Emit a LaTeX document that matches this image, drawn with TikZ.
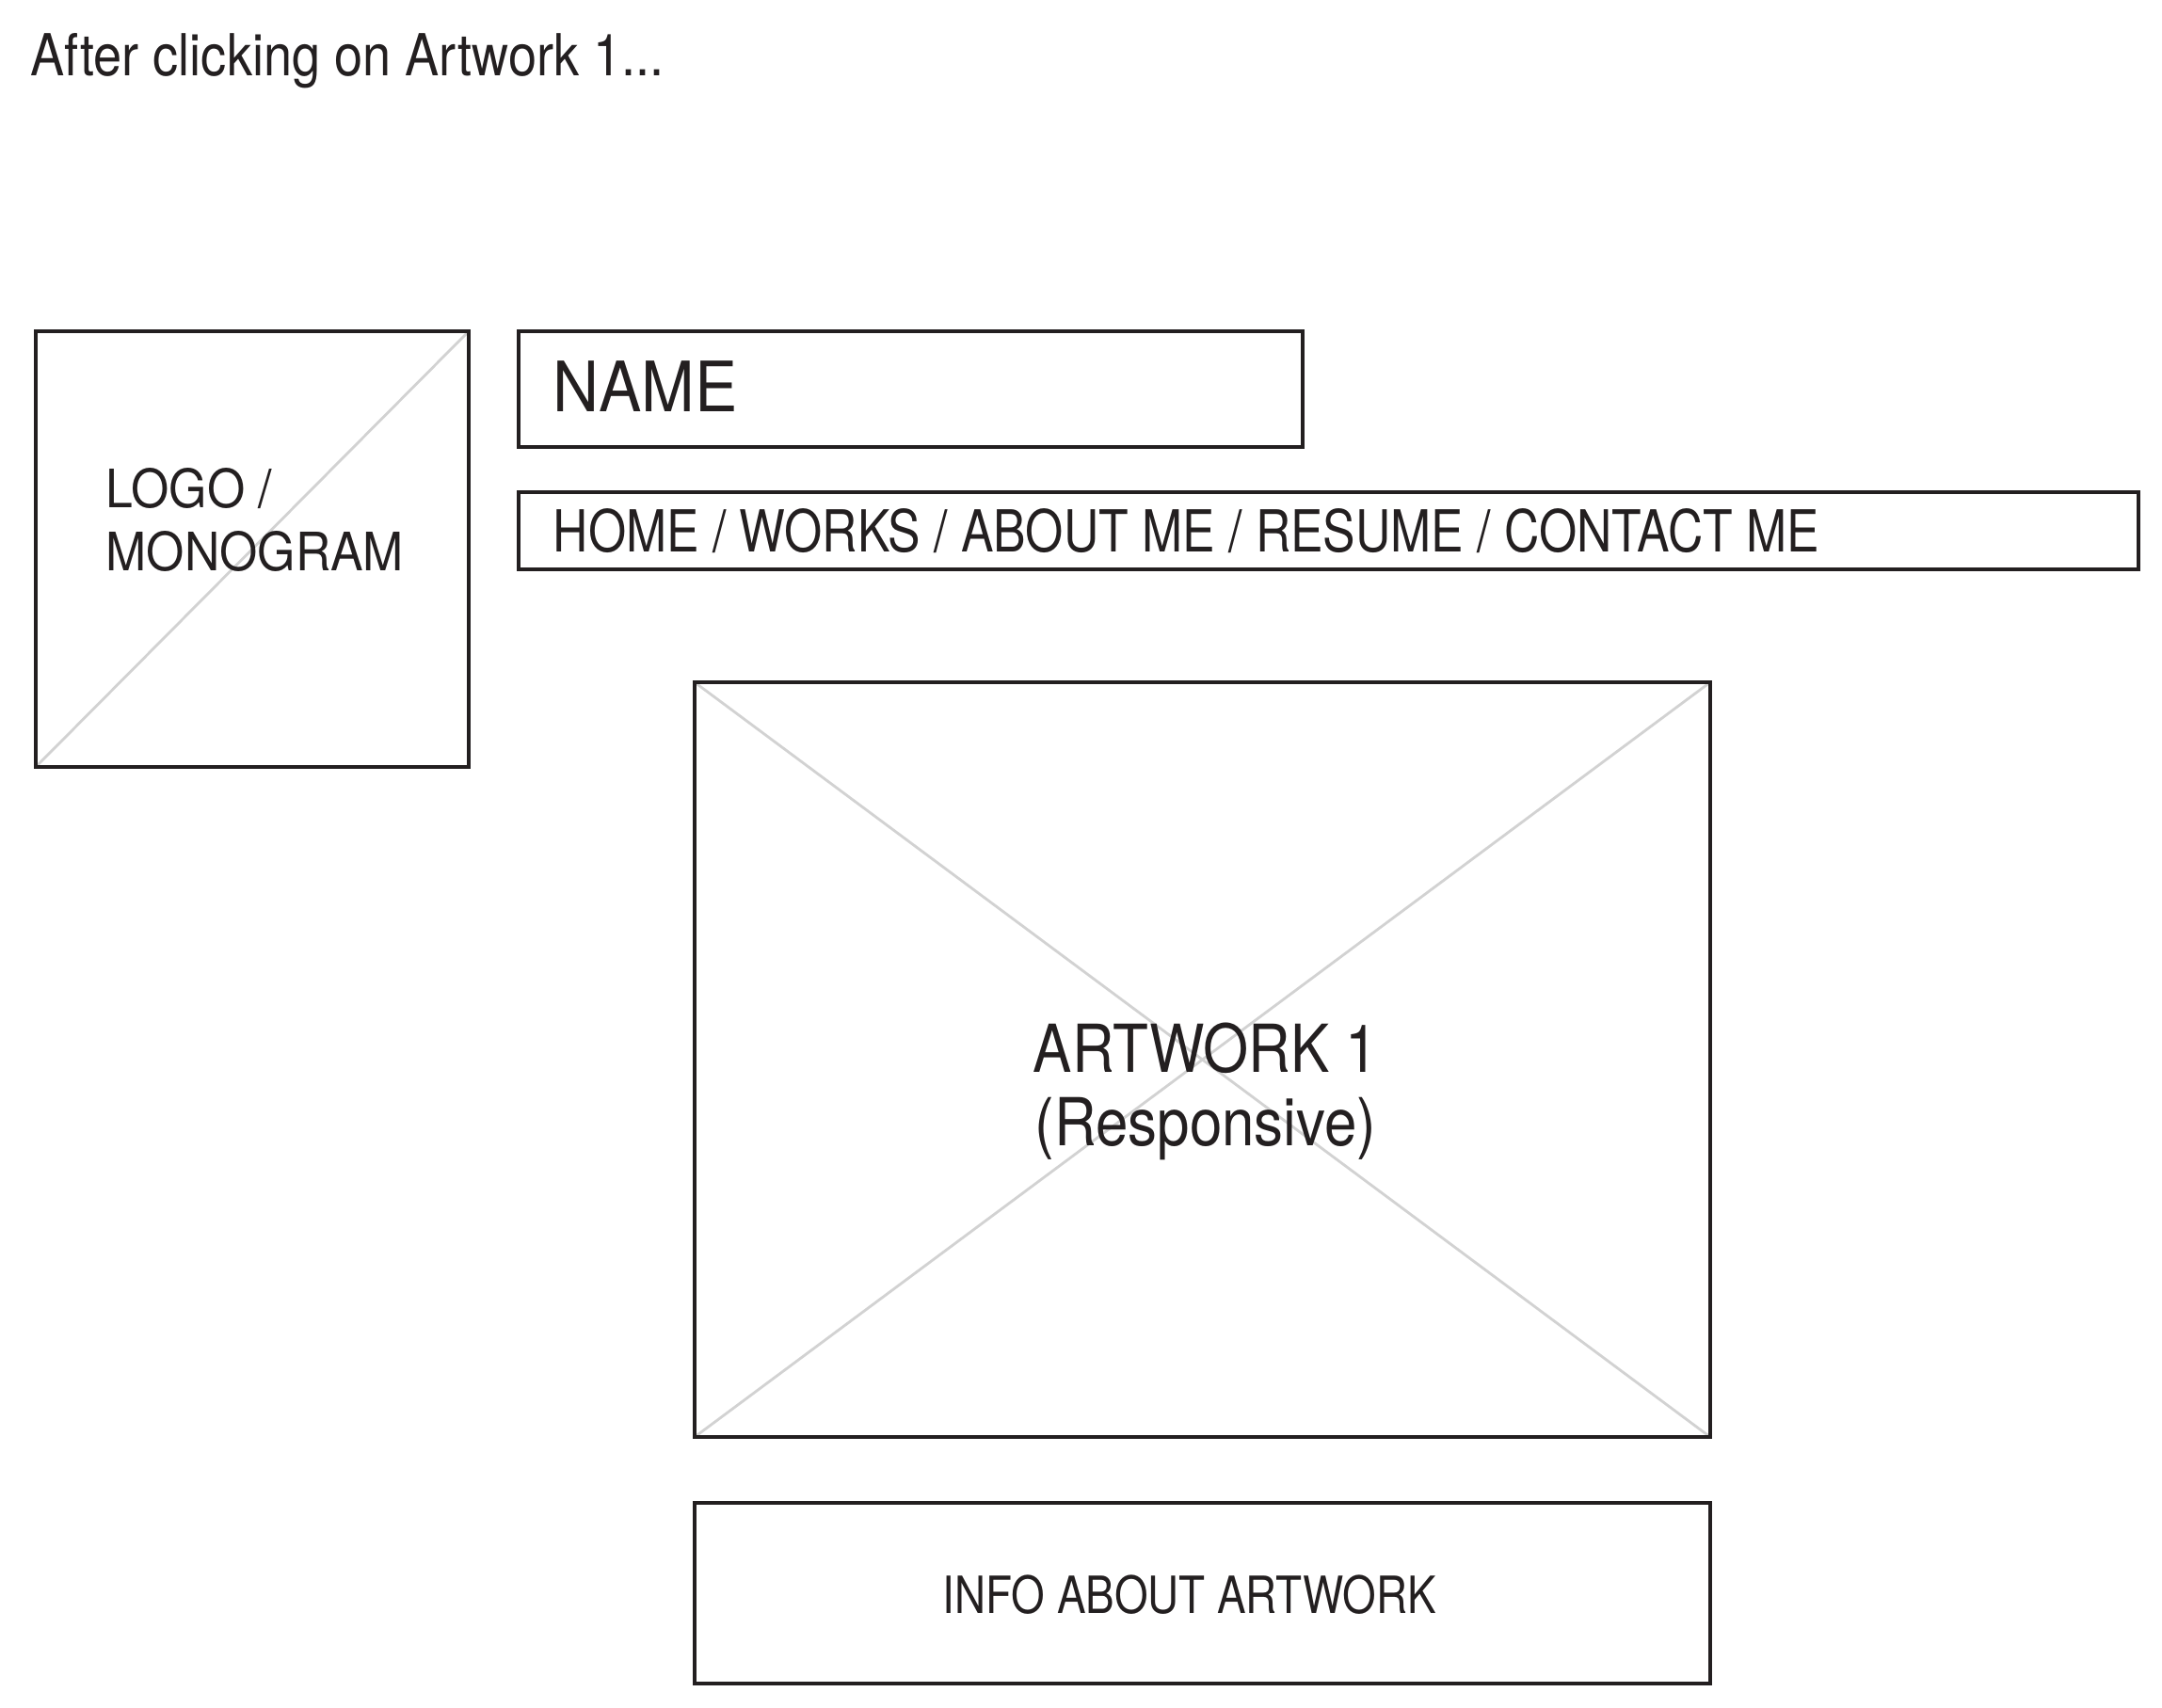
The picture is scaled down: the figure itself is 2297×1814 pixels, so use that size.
\documentclass[tikz,border=0pt]{standalone}
\usepackage{fontspec}
\setmainfont{TeX Gyre Heros}
\newfontfamily\wideish{TeX Gyre Heros}[FakeStretch=0.92]
\newfontfamily\midish{TeX Gyre Heros}[FakeStretch=0.88]
\newfontfamily\narrowish{TeX Gyre Heros}[FakeStretch=0.84]
\usepackage{tikz}
\definecolor{ink}{HTML}{231F20}
\definecolor{cross}{HTML}{D2D2D2}

\begin{document}
\begin{tikzpicture}[x=0.01cm,y=-0.01cm,
    frame/.style={draw=ink,line width=1.1pt},
    placeholder/.style={draw=cross,line width=0.8pt},
    label/.style={text=ink,inner sep=0pt}]
    \useasboundingbox (0,0) rectangle (2297,1814);

    % Heading
    \node[label,anchor=base west,font=\midish\fontsize{17.5}{21}\selectfont] (heading) at (32,80) {After clicking on Artwork 1...};

    % Logo / monogram square with one diagonal
    \coordinate (logoNW) at (38,352);
    \coordinate (logoSE) at (498,815);
    \draw[placeholder] (logoNW |- logoSE) -- (logoSE |- logoNW);
    \draw[frame] (logoNW) rectangle (logoSE);
    \node[label,anchor=north west,align=left,font=\wideish\fontsize{16}{19}\selectfont] (logo) at (112,497) {LOGO /\\MONOGRAM};

    % Name and navigation bars
    \draw[frame] (551,352) rectangle (1384,475);
    \node[label,anchor=base west,font=\wideish\fontsize{21}{25}\selectfont] (name) at (587,437) {NAME};
    \draw[frame] (551,523) rectangle (2272,605);
    \node[label,anchor=base west,font=\narrowish\fontsize{17.5}{21}\selectfont] (nav) at (587,586) {HOME / WORKS / ABOUT ME / RESUME / CONTACT ME};

    % Artwork with crossed placeholder
    \coordinate (artNW) at (738,725);
    \coordinate (artSE) at (1817,1527);
    \draw[placeholder] (artNW) -- (artSE);
    \draw[placeholder] (artNW |- artSE) -- (artSE |- artNW);
    \draw[frame] (artNW) rectangle (artSE);
    \node[label,align=center,font=\midish\fontsize{20}{22}\selectfont] (artwork) at (1281,1160) {ARTWORK 1\\(Responsive)};

    % Info box
    \draw[frame] (738,1597) rectangle (1817,1789);
    \node[label,anchor=base,font=\narrowish\fontsize{15.5}{19}\selectfont] (info) at (1264,1714) {INFO ABOUT ARTWORK};
\end{tikzpicture}
\end{document}
